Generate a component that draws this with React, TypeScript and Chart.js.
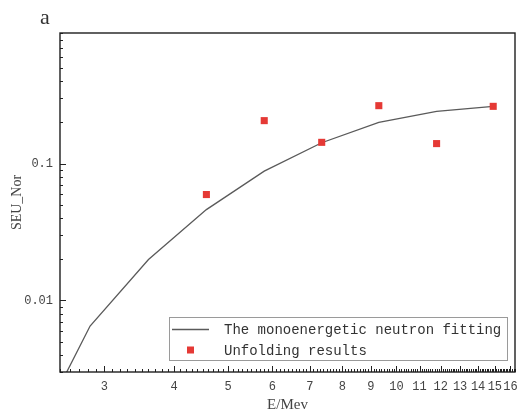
import React, { useEffect, useRef } from "react";
import { Chart, registerables } from "chart.js";

Chart.register(...registerables);

// ---- data ----
const fitEnergy = [2.5, 2.83, 3.6, 4.57, 5.8, 7.35, 9.3, 11.8, 14.9];
const fitValue = [0.0024, 0.0065, 0.0199, 0.0461, 0.088, 0.142, 0.2, 0.241, 0.262];
const unfoldEnergy = [4.57, 5.8, 7.35, 9.3, 11.8, 14.9];
const unfoldValue = [0.0594, 0.206, 0.143, 0.265, 0.14, 0.262];
const xTickLabels = [3, 4, 5, 6, 7, 8, 9, 10, 11, 12, 13, 14, 15, 16];
const yTickLabels = [0.01, 0.1];
const seriesNames = ["The monoenergetic neutron fitting", "Unfolding results"];
const xTitle = "E/Mev";
const yTitle = "SEU_Nor";
const panelLabel = "a";

const X_MIN = 2.5;
const X_MAX = 16.3;
const Y_MIN = 0.003;
const Y_MAX = 0.9;

const LINE_COLOR = "#5a5a5a";
const POINT_COLOR = "#e53935";
const TEXT_COLOR = "#444";
const MONO = '"Liberation Mono", monospace';
const SERIF = '"Liberation Serif", serif';

function buildXTicks() {
  const t: { value: number; major: boolean }[] = [];
  for (let i = Math.round(X_MIN * 10); i <= Math.round(X_MAX * 10); i++) {
    const v = i / 10;
    t.push({ value: v, major: i % 10 === 0 && xTickLabels.includes(i / 10) });
  }
  return t;
}

function buildYTicks() {
  const t: { value: number; major: boolean }[] = [];
  for (let e = -3; e <= 0; e++) {
    for (let m = 1; m <= 9; m++) {
      const v = parseFloat((m * Math.pow(10, e)).toPrecision(6));
      if (v >= Y_MIN - 1e-12 && v <= Y_MAX + 1e-12) {
        t.push({ value: v, major: m === 1 });
      }
    }
  }
  return t;
}

const framePlugin = {
  id: "frameTicks",
  afterDatasetsDraw(chart: any) {
    const { ctx, chartArea: a, scales } = chart;
    ctx.save();
    ctx.strokeStyle = "#222";
    ctx.lineWidth = 1;
    const xs = scales.x;
    xs.ticks.forEach((t: any) => {
      const px = Math.round(xs.getPixelForValue(t.value)) + 0.5;
      const len = t.major ? 6 : 3;
      ctx.beginPath();
      ctx.moveTo(px, a.bottom);
      ctx.lineTo(px, a.bottom - len);
      ctx.stroke();
    });
    const ys = scales.y;
    ys.ticks.forEach((t: any) => {
      const py = Math.round(ys.getPixelForValue(t.value)) + 0.5;
      const len = t.major ? 6 : 3;
      ctx.beginPath();
      ctx.moveTo(a.left, py);
      ctx.lineTo(a.left + len, py);
      ctx.stroke();
    });
    ctx.lineWidth = 1.4;
    ctx.strokeStyle = "#1e1e1e";
    ctx.strokeRect(a.left, a.top, a.right - a.left, a.bottom - a.top);
    ctx.restore();
  },
  afterDraw(chart: any) {
    const { ctx, chartArea: a } = chart;
    ctx.save();
    // panel label
    ctx.fillStyle = "#333";
    ctx.font = `22px ${SERIF}`;
    ctx.textBaseline = "alphabetic";
    ctx.textAlign = "left";
    ctx.fillText(panelLabel, a.left - 20, a.top - 9);

    // legend box inside plot area (bottom right)
    const bx = 169, by = 317, bw = 338, bh = 43;
    ctx.fillStyle = "#fff";
    ctx.fillRect(bx, by, bw, bh);
    ctx.strokeStyle = "#9a9a9a";
    ctx.lineWidth = 1;
    ctx.strokeRect(bx + 0.5, by + 0.5, bw, bh);

    const ds = chart.data.datasets;
    const lineDs = ds.find((d: any) => d.showLine);
    const ptDs = ds.find((d: any) => !d.showLine);
    const row1 = by + 12.5;
    const row2 = by + 33;
    ctx.strokeStyle = lineDs.borderColor;
    ctx.lineWidth = lineDs.borderWidth;
    ctx.beginPath();
    ctx.moveTo(bx + 3, row1);
    ctx.lineTo(bx + 40, row1);
    ctx.stroke();
    ctx.fillStyle = ptDs.backgroundColor;
    ctx.fillRect(bx + 18, row2 - 3.5, 7, 7);

    ctx.fillStyle = "#333";
    ctx.font = `14px ${MONO}`;
    ctx.textBaseline = "middle";
    ctx.fillText(lineDs.label, bx + 55, row1 + 1);
    ctx.fillText(ptDs.label, bx + 55, row2 + 1);
    ctx.restore();
  },
};

export default function App() {
  const ref = useRef<HTMLCanvasElement | null>(null);

  useEffect(() => {
    document.body.style.margin = "0";
    const canvas = ref.current;
    if (!canvas) return;
    const chart = new Chart(canvas, {
      type: "scatter",
      data: {
        datasets: [
          {
            label: seriesNames[1],
            data: unfoldEnergy.map((x, i) => ({ x, y: unfoldValue[i] })),
            showLine: false,
            pointStyle: "rect",
            pointRadius: 5,
            pointBorderWidth: 0,
            backgroundColor: POINT_COLOR,
            borderColor: POINT_COLOR,
          },
          {
            label: seriesNames[0],
            data: fitEnergy.map((x, i) => ({ x, y: fitValue[i] })),
            showLine: true,
            pointRadius: 0,
            borderColor: LINE_COLOR,
            backgroundColor: LINE_COLOR,
            borderWidth: 1.3,
            tension: 0,
          },
        ],
      },
      options: {
        responsive: false,
        animation: false,
        events: [],
        layout: { padding: { top: 33, right: 16, left: 0, bottom: 0 } },
        plugins: {
          legend: { display: false },
          tooltip: { enabled: false },
          title: { display: false },
        },
        scales: {
          x: {
            type: "logarithmic",
            min: X_MIN,
            max: X_MAX,
            grid: { display: false, drawTicks: false },
            border: { display: false },
            afterBuildTicks: (scale: any) => {
              scale.ticks = buildXTicks();
            },
            afterFit: (scale: any) => {
              scale.height = 42;
            },
            ticks: {
              autoSkip: false,
              maxRotation: 0,
              padding: 8,
              color: TEXT_COLOR,
              font: { family: MONO, size: 12 },
              callback: (v: any) => {
                const n = Math.round(Number(v) * 10) / 10;
                return xTickLabels.includes(n) ? String(n) : "";
              },
            },
            title: {
              display: true,
              text: xTitle,
              color: TEXT_COLOR,
              font: { family: SERIF, size: 15 },
              padding: { top: 0, bottom: 0 },
            },
          },
          y: {
            type: "logarithmic",
            min: Y_MIN,
            max: Y_MAX,
            grid: { display: false, drawTicks: false },
            border: { display: false },
            afterBuildTicks: (scale: any) => {
              scale.ticks = buildYTicks();
            },
            afterFit: (scale: any) => {
              scale.width = 60;
            },
            ticks: {
              autoSkip: false,
              padding: 7,
              color: TEXT_COLOR,
              font: { family: MONO, size: 12 },
              callback: (v: any) => {
                const n = Number(v);
                const hit = yTickLabels.find((t) => Math.abs(t - n) < n * 1e-6);
                return hit !== undefined ? String(hit) : "";
              },
            },
            title: {
              display: true,
              text: yTitle,
              color: TEXT_COLOR,
              font: { family: SERIF, size: 14 },
              padding: { top: 9, bottom: 0 },
            },
          },
        },
      },
      plugins: [framePlugin],
    });
    return () => chart.destroy();
  }, []);

  return (
    <div style={{ width: 531, height: 414, background: "#fff" }}>
      <canvas ref={ref} width={531} height={414} style={{ display: "block" }} />
    </div>
  );
}
